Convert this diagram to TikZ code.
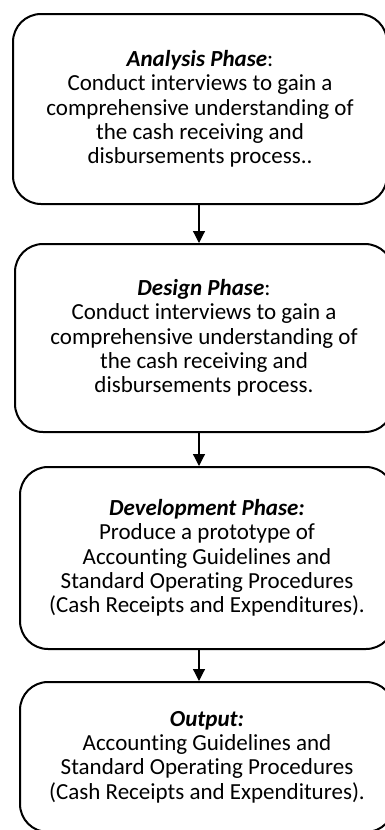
\documentclass[tikz,border=0pt]{standalone}
\usepackage{fontspec}
\setmainfont[Ligatures={NoCommon}]{Carlito}
\usetikzlibrary{arrows.meta}
\tikzset{
  phase/.style={draw, line width=2pt, rounded corners=28pt, align=center,
    inner sep=0pt, font=\fontsize{23}{24.3}\selectfont},
  arr/.style={-{Triangle[width=12pt,length=12pt]}, line width=1.2pt}
}
\begin{document}
\begin{tikzpicture}[x=1pt,y=-1pt]
  \useasboundingbox (0,0) rectangle (385,830);
  % phases
  \node[phase, minimum width=374pt, minimum height=190pt] (analysis) at (200,109)
    {\textbf{\textit{Analysis Phase}}:\\ Conduct interviews to gain a\\
     comprehensive understanding of\\ the cash receiving and\\
     disbursements process..};
  \node[phase, minimum width=378pt, minimum height=188pt] (design) at (204,338)
    {\textbf{\textit{Design Phase}}:\\ Conduct interviews to gain a\\
     comprehensive understanding of\\ the cash receiving and\\
     disbursements process.};
  \node[phase, minimum width=374pt, minimum height=182pt] (development) at (207,558)
    {\textbf{\textit{Development Phase:}}\\ Produce a prototype of\\
     Accounting Guidelines and\\ Standard Operating Procedures\\
     (Cash Receipts and Expenditures).};
  \node[phase, minimum width=374pt, minimum height=150pt] (output) at (207,757)
    {\textbf{\textit{Output:}}\\ Accounting Guidelines and\\
     Standard Operating Procedures\\ (Cash Receipts and Expenditures).};
  % arrows
  \coordinate (ax) at (199,0);
  \draw[arr] (analysis.south -| ax) -- (design.north -| ax);
  \draw[arr] (design.south -| ax) -- (development.north -| ax);
  \draw[arr] (development.south -| ax) -- (output.north -| ax);
\end{tikzpicture}
\end{document}
